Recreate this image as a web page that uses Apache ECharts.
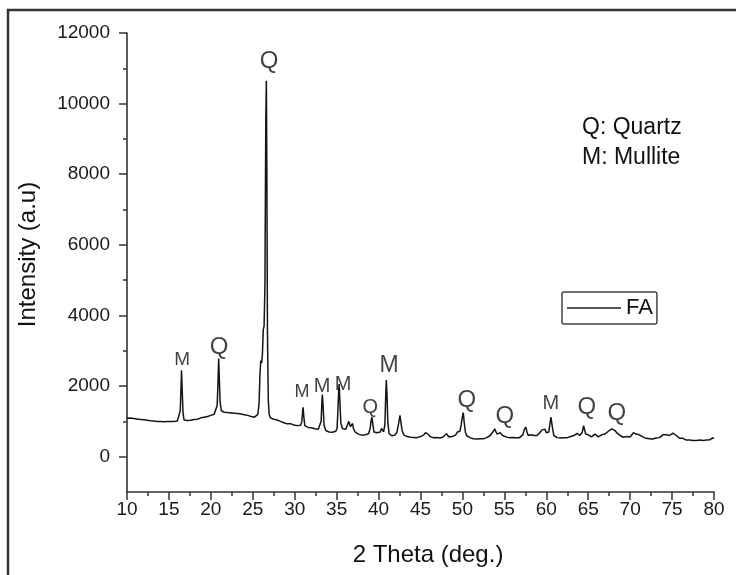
<!DOCTYPE html>
<html>
<head>
<meta charset="utf-8">
<title>FA XRD</title>
<script src="https://cdn.jsdelivr.net/npm/echarts@6.0.0/dist/echarts.min.js"></script>
<style>
  html, body { margin: 0; padding: 0; background: #fff; }
  #chart { width: 736px; height: 575px; }
</style>
</head>
<body>
<div id="chart"></div>
<script>
// XRD pattern of fly ash, [2theta, intensity]
const faPattern = [
  [10.0,1090],[10.2,1075],[10.4,1095],[10.6,1060],[10.8,1080],[11.0,1050],[11.2,1065],[11.4,1040],[11.6,1055],[11.8,1030],
  [12.0,1045],[12.2,1010],[12.4,1035],[12.6,1000],[12.8,1020],[13.0,990],[13.2,1010],[13.4,975],[13.6,1000],[13.8,985],
  [14.0,995],[14.2,970],[14.4,990],[14.6,980],[14.8,1000],[15.0,975],[15.2,995],[15.4,985],[15.6,1000],[15.8,990],
  [16.0,1010],[16.2,1040],[16.35,1300],[16.45,2000],[16.5,2450],[16.58,1900],[16.68,1250],[16.8,1040],[17.0,1010],[17.2,1025],
  [17.4,1000],[17.6,1030],[17.8,1040],[18.0,1055],[18.2,1070],[18.4,1060],[18.6,1090],[18.8,1100],[19.0,1110],[19.2,1120],
  [19.4,1130],[19.6,1140],[19.8,1150],[20.0,1170],[20.2,1180],[20.4,1200],[20.6,1230],[20.75,1450],[20.85,2100],[20.93,2780],
  [21.0,2300],[21.1,1550],[21.25,1300],[21.4,1270],[21.6,1260],[21.8,1280],[22.0,1250],[22.2,1270],[22.4,1240],[22.6,1260],
  [22.8,1230],[23.0,1250],[23.2,1220],[23.4,1240],[23.6,1210],[23.8,1220],[24.0,1190],[24.2,1200],[24.4,1170],[24.6,1160],
  [24.8,1140],[25.0,1130],[25.2,1120],[25.4,1140],[25.6,1200],[25.75,1500],[25.85,2300],[25.95,2720],[26.05,2650],[26.15,2900],
  [26.25,3600],[26.35,3700],[26.45,4900],[26.55,9500],[26.62,10650],[26.68,8000],[26.75,3500],[26.85,1600],[26.95,1200],[27.1,1100],
  [27.3,1080],[27.5,1060],[27.7,1070],[27.9,1040],[28.1,1020],[28.3,1000],[28.5,980],[28.7,960],[28.9,950],[29.1,930],
  [29.3,920],[29.5,935],[29.7,910],[29.9,895],[30.1,900],[30.3,880],[30.5,875],[30.7,890],[30.85,1000],[30.95,1300],
  [31.0,1400],[31.08,1150],[31.2,880],[31.4,840],[31.6,830],[31.8,810],[32.0,820],[32.2,800],[32.4,790],[32.6,770],
  [32.8,780],[33.0,800],[33.15,1000],[33.25,1600],[33.3,1760],[33.38,1450],[33.5,900],[33.7,740],[33.9,720],[34.1,700],
  [34.3,710],[34.5,690],[34.7,700],[34.9,720],[35.05,800],[35.15,1300],[35.25,1900],[35.3,2060],[35.38,1600],[35.5,950],
  [35.7,790],[35.9,760],[36.1,780],[36.3,800],[36.45,1000],[36.55,1050],[36.65,850],[36.8,900],[36.9,940],[37.0,800],
  [37.2,700],[37.4,650],[37.6,640],[37.8,620],[38.0,610],[38.2,600],[38.4,620],[38.6,630],[38.8,650],[39.0,800],
  [39.1,1000],[39.2,1120],[39.3,950],[39.45,700],[39.6,650],[39.8,680],[40.0,720],[40.2,700],[40.35,800],[40.45,750],
  [40.6,700],[40.75,900],[40.85,1700],[40.92,2170],[41.0,1800],[41.1,1000],[41.25,650],[41.4,600],[41.6,590],[41.8,600],
  [42.0,620],[42.2,700],[42.4,950],[42.55,1170],[42.65,1000],[42.8,750],[43.0,620],[43.2,580],[43.4,570],[43.6,560],
  [43.8,550],[44.0,560],[44.2,545],[44.4,555],[44.6,540],[44.8,560],[45.0,570],[45.2,590],[45.4,620],[45.6,680],
  [45.75,730],[45.9,640],[46.1,580],[46.3,550],[46.5,540],[46.7,530],[46.9,545],[47.1,520],[47.3,530],[47.5,540],
  [47.7,560],[47.9,580],[48.1,650],[48.25,620],[48.4,560],[48.6,550],[48.8,570],[49.0,560],[49.2,620],[49.4,700],
  [49.55,650],[49.7,720],[49.85,900],[50.0,1150],[50.1,1250],[50.2,1000],[50.35,700],[50.5,600],[50.7,560],[50.9,540],
  [51.1,520],[51.3,510],[51.5,520],[51.7,500],[51.9,490],[52.1,510],[52.3,495],[52.5,505],[52.7,520],[52.9,540],
  [53.1,560],[53.3,600],[53.5,650],[53.7,720],[53.85,790],[54.0,700],[54.15,640],[54.3,620],[54.5,680],[54.65,640],
  [54.8,600],[55.0,580],[55.2,560],[55.4,550],[55.6,540],[55.8,530],[56.0,545],[56.2,530],[56.4,540],[56.6,520],
  [56.8,540],[57.0,560],[57.2,620],[57.4,780],[57.55,840],[57.7,700],[57.85,600],[58.0,580],[58.2,620],[58.35,660],
  [58.5,600],[58.7,580],[58.9,600],[59.1,640],[59.3,700],[59.5,760],[59.7,810],[59.85,780],[60.0,680],[60.15,640],
  [60.3,700],[60.45,950],[60.55,1120],[60.65,1100],[60.75,800],[60.9,600],[61.1,560],[61.3,540],[61.5,550],[61.7,530],
  [61.9,545],[62.1,535],[62.3,550],[62.5,540],[62.7,560],[62.9,570],[63.1,580],[63.3,600],[63.5,620],[63.7,660],
  [63.85,640],[64.0,600],[64.15,620],[64.3,700],[64.45,880],[64.55,850],[64.7,640],[64.85,600],[65.0,620],[65.2,580],
  [65.4,560],[65.6,600],[65.8,640],[66.0,600],[66.2,560],[66.4,580],[66.6,620],[66.8,600],[67.0,640],[67.2,680],
  [67.4,720],[67.6,770],[67.8,790],[68.0,780],[68.2,740],[68.4,680],[68.6,640],[68.8,600],[69.0,580],[69.2,550],
  [69.4,600],[69.6,570],[69.8,540],[70.0,560],[70.2,620],[70.4,680],[70.55,700],[70.7,640],[70.9,600],[71.1,620],
  [71.3,580],[71.5,560],[71.7,540],[71.9,520],[72.1,530],[72.3,510],[72.5,520],[72.7,500],[72.9,510],[73.1,530],
  [73.3,520],[73.5,540],[73.7,580],[73.9,620],[74.1,660],[74.3,620],[74.5,580],[74.7,600],[74.9,640],[75.1,670],
  [75.3,650],[75.5,600],[75.7,560],[75.9,520],[76.1,500],[76.3,520],[76.5,490],[76.7,470],[76.9,480],[77.1,470],
  [77.3,490],[77.5,460],[77.7,470],[77.9,460],[78.1,450],[78.3,470],[78.5,450],[78.7,460],[78.9,450],[79.1,470],
  [79.3,460],[79.5,480],[79.7,500],[79.85,530],[80.0,520]
];

// phase labels over the peaks: position in data units, text, font size
const peakLabelX = [26.95, 16.59, 20.99, 30.88, 33.27, 35.77, 39.0, 41.25, 50.54, 55.07, 60.55, 64.84, 68.41];
const peakLabelY = [11186, 2734, 3103, 1824, 1994, 2050, 1398, 2590, 1597, 1143, 1512, 1398, 1228];
const peakLabelText = ['Q', 'M', 'Q', 'M', 'M', 'M', 'Q', 'M', 'Q', 'Q', 'M', 'Q', 'Q'];
const peakLabelSize = [24, 19, 24, 18, 20, 20, 20, 23, 24, 24, 20, 24, 24];

const majorY = [0, 2000, 4000, 6000, 8000, 10000, 12000];
const minorY = [1000, 3000, 5000, 7000, 9000, 11000];

const FONT = 'Liberation Sans, Arial, sans-serif';
const INK = '#141414';

const chart = echarts.init(document.getElementById('chart'));

const peakData = peakLabelX.map((x, i) => ({
  value: [x, peakLabelY[i]],
  label: { formatter: peakLabelText[i], fontSize: peakLabelSize[i] }
}));

chart.setOption({
  animation: false,
  backgroundColor: '#fff',
  grid: { left: 127, right: 22, top: 33, bottom: 83 },
  legend: {
    data: ['FA'],
    left: 562,
    top: 292,
    orient: 'vertical',
    icon: 'rect',
    itemWidth: 54,
    itemHeight: 2,
    padding: [5, 4, 5, 5],
    borderColor: '#444',
    borderWidth: 1.5,
    borderRadius: 2,
    itemStyle: { color: '#555' },
    textStyle: { fontFamily: FONT, fontSize: 22, color: '#111' }
  },
  xAxis: {
    type: 'value',
    min: 10,
    max: 80,
    interval: 5,
    name: '2 Theta (deg.)',
    nameLocation: 'middle',
    nameGap: 51,
    nameTextStyle: { fontFamily: FONT, fontSize: 24, color: '#111', padding: [0, 0, 0, 15] },
    axisLine: { onZero: false, lineStyle: { color: '#333', width: 1.6 } },
    axisTick: { length: 8, lineStyle: { color: '#333', width: 1.5 } },
    minorTick: { show: true, splitNumber: 2, length: 4, lineStyle: { color: '#333', width: 1.5 } },
    axisLabel: { fontFamily: FONT, fontSize: 19, color: '#1a1a1a', margin: 8 },
    splitLine: { show: false }
  },
  yAxis: [
    {
      type: 'value',
      min: -1000,
      max: 12000,
      name: 'Intensity (a.u)',
      nameLocation: 'middle',
      nameGap: 87,
      nameTextStyle: { fontFamily: FONT, fontSize: 24, color: '#111', padding: [0, 0, 0, 16] },
      axisLine: { show: true, onZero: false, lineStyle: { color: '#333', width: 1.6 } },
      axisTick: { show: true, length: 8, customValues: majorY, lineStyle: { color: '#333', width: 1.5 } },
      axisLabel: {
        customValues: majorY,
        formatter: (v) => String(v),
        fontFamily: FONT, fontSize: 19, color: '#1a1a1a', margin: 17
      },
      splitLine: { show: false }
    },
    {
      // only carries the short ticks between the labelled ones
      type: 'value',
      min: -1000,
      max: 12000,
      position: 'left',
      axisLine: { show: false },
      axisTick: { show: true, length: 4, customValues: minorY, lineStyle: { color: '#333', width: 1.5 } },
      axisLabel: { show: false },
      splitLine: { show: false }
    }
  ],
  graphic: [
    {
      type: 'rect',
      shape: { x: 8, y: 10, width: 900, height: 900 },
      style: { fill: 'none', stroke: '#333', lineWidth: 2.5 },
      silent: true
    },
    {
      type: 'text', left: 582, top: 116,
      style: { text: 'Q: Quartz', font: '23px ' + FONT, fill: '#111' }
    },
    {
      type: 'text', left: 582, top: 146,
      style: { text: 'M: Mullite', font: '23px ' + FONT, fill: '#111' }
    }
  ],
  series: [
    {
      name: 'FA',
      type: 'line',
      data: faPattern,
      showSymbol: false,
      symbol: 'none',
      lineStyle: { color: INK, width: 1.5 },
      itemStyle: { color: INK }
    },
    {
      name: 'labels',
      type: 'scatter',
      data: peakData,
      symbolSize: 1,
      itemStyle: { color: 'rgba(0,0,0,0)' },
      label: { show: true, position: 'inside', fontFamily: FONT, color: '#111' },
      silent: true
    }
  ]
});
</script>
</body>
</html>
